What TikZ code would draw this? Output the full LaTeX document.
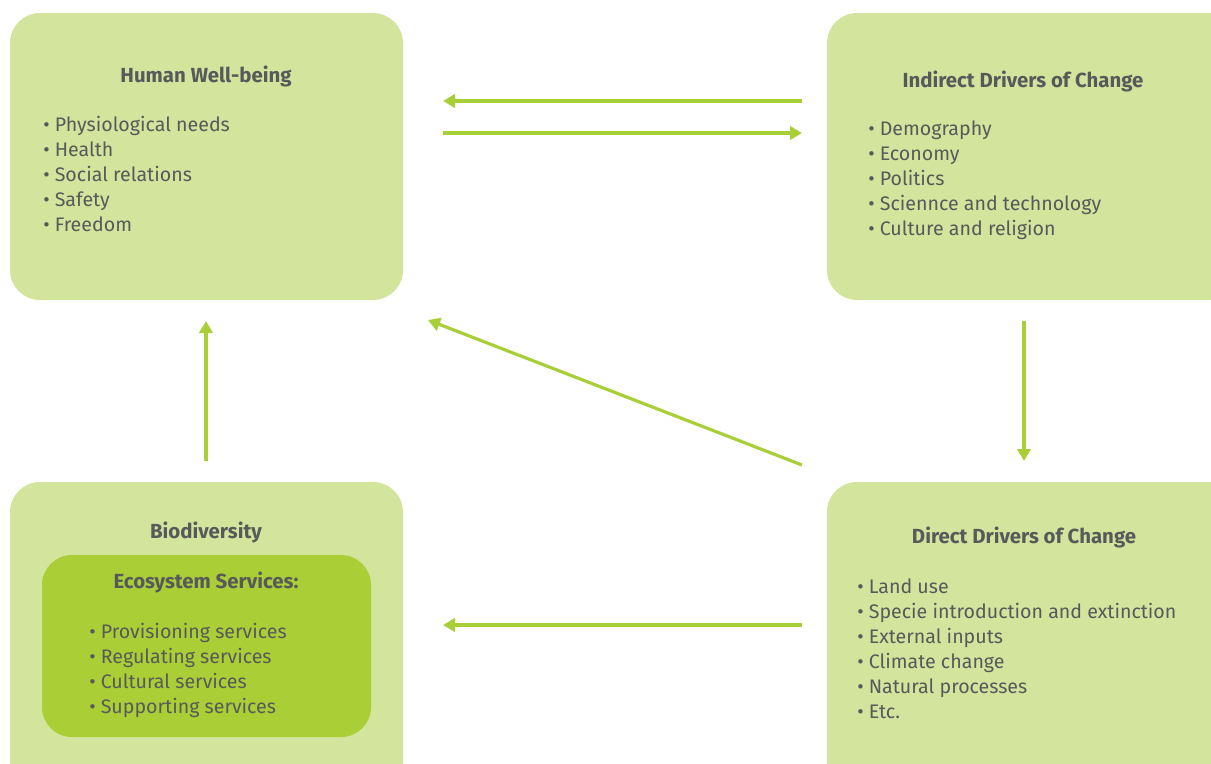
\documentclass[tikz,border=0pt]{standalone}
\usepackage{fontspec}
\setmainfont{Fira Sans}
\usetikzlibrary{arrows.meta}
\definecolor{boxgreen}{HTML}{D3E49C}
\definecolor{innergreen}{HTML}{AACE36}
\definecolor{arrowgreen}{HTML}{A8CF38}
\definecolor{textgray}{HTML}{58595B}
\begin{document}
\begin{tikzpicture}[x=0.75pt,y=-0.75pt,
  panel/.style={fill=boxgreen,draw=none,rounded corners=22.5pt},
  innerpanel/.style={fill=innergreen,draw=none,rounded corners=22.5pt},
  heading/.style={anchor=base,inner sep=0pt,text=textgray,
    font=\fontsize{15.3}{18.75}\selectfont\bfseries},
  items/.style={anchor=north west,inner sep=0pt,align=left,text=textgray,
    font=\fontsize{14.7}{18.75}\selectfont},
  flow/.style={draw=arrowgreen,line width=2.4pt,
    -{Triangle[length=9pt,width=10pt]}}]
\useasboundingbox (0,0) rectangle (1211,764);
\clip (0,0) rectangle (1211,764);

% panels
\fill[panel] (10,13) rectangle (403,300);
\fill[panel] (827,13) rectangle (1240,300);
\fill[panel] (10,482) rectangle (403,800);
\fill[innerpanel] (42,555) rectangle (371,737);
\fill[panel] (827,482) rectangle (1240,800);

% Human well-being
\node[heading] (hwtitle) at (206,82) {Human Well-being};
\node[items] (hwlist) at (43,116) {• Physiological needs\\• Health\\• Social relations\\• Safety\\• Freedom};

% indirect drivers
\node[heading] (idctitle) at (1023,87) {Indirect Drivers of Change};
\node[items] (idclist) at (868,121) {• Demography\\• Economy\\• Politics\\• Sciennce and technology\\• Culture and religion};

% biodiversity and ecosystem services
\node[heading] (biotitle) at (206,538) {Biodiversity};
\node[heading] (ecotitle) at (206,588) {Ecosystem Services:};
\node[items] (ecolist) at (89,623) {• Provisioning services\\• Regulating services\\• Cultural services\\• Supporting services};

% direct drivers
\node[heading] (ddctitle) at (1024,543) {Direct Drivers of Change};
\node[items] (ddclist) at (857,579) {• Land use\\• Specie introduction and extinction\\• External inputs\\• Climate change\\• Natural processes\\• Etc.};

% connector ends
\coordinate (hwA) at (443,101);
\coordinate (hwB) at (443,133);
\coordinate (hwC) at (428,320);
\coordinate (hwD) at (206,321);
\coordinate (idcA) at (802,101);
\coordinate (idcB) at (802,133);
\coordinate (idcC) at (1024,321);
\coordinate (ddcA) at (1024,461);
\coordinate (ddcB) at (802,465);
\coordinate (ddcC) at (802,625);
\coordinate (bioA) at (206,461);
\coordinate (bioB) at (443,625);

\draw[flow] (idcA) -- (hwA);
\draw[flow] (hwB) -- (idcB);
\draw[flow] (idcC) -- (ddcA);
\draw[flow] (ddcB) -- (hwC);
\draw[flow] (bioA) -- (hwD);
\draw[flow] (ddcC) -- (bioB);
\end{tikzpicture}
\end{document}
